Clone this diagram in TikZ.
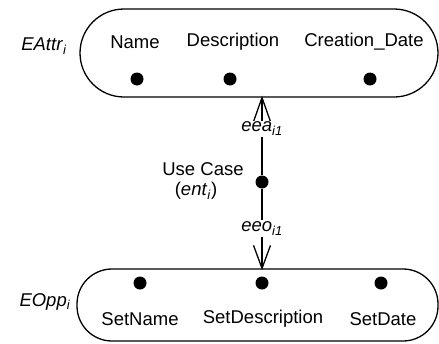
\documentclass[tikz,border=0pt]{standalone}
\usepackage{fontspec}
\setmainfont{Liberation Sans}

\newcommand{\sub}[2]{\textit{#1}\textsubscript{\textit{#2}}}

\begin{document}
\begin{tikzpicture}[x=1pt,y=-1pt,
  every node/.style={font=\fontsize{18.5}{22}\selectfont},
  group/.style={draw,line width=1.3pt,inner sep=0pt},
  pt/.style={circle,fill=black,inner sep=0pt,minimum size=13pt},
  lbl/.style={fill=white,inner sep=1.5pt},
  link/.style={line width=1.3pt},
  barb/.style={line width=1.3pt,line join=miter}]
  \useasboundingbox (0,0) rectangle (439,343);

  % attribute group
  \node[group,rounded corners=44pt,minimum width=358pt,minimum height=88pt] (attr) at (259,53) {};
  \node (name) at (135,42) {Name};
  \node (desc) at (233,42) {Description};
  \node (cdate) at (364,42) {Creation\_Date};
  \node[pt] (a1) at (137,79) {};
  \node[pt] (a2) at (230,79) {};
  \node[pt] (a3) at (370,79) {};
  \node (eattr) at (44,46) {\sub{EAttr}{i}};

  % operation group
  \node[group,rounded corners=35pt,minimum width=361pt,minimum height=72pt] (opp) at (257.5,305) {};
  \node[pt] (o1) at (140,283) {};
  \node[pt] (o2) at (262,283) {};
  \node[pt] (o3) at (381,283) {};
  \node (sname) at (140,319) {SetName};
  \node (sdesc) at (263,319) {SetDescription};
  \node (sdate) at (383,319) {SetDate};
  \node (eopp) at (45,302) {\sub{EOpp}{i}};

  % use case and its links
  \node[pt] (uc) at (262,182) {};
  \node (uctxt) at (203,169) {Use Case};
  \node (ucent) at (196,191) {(\sub{ent}{i})};
  \coordinate (tipA) at (uc |- attr.south);
  \coordinate (tipO) at (uc |- opp.north);
  % open barbs at both ends
  \draw[barb] (tipA) ++(-8.5,24) -- (tipA) -- ++(8.5,24);
  \draw[barb] (tipO) ++(-8.5,-23) -- (tipO) -- ++(8.5,-23);
  \draw[link] (uc) -- node[lbl,pos=0.6] {\sub{eea}{i1}} (tipA);
  \draw[link] (uc) -- node[lbl,pos=0.5] {\sub{eeo}{i1}} (tipO);
\end{tikzpicture}
\end{document}
